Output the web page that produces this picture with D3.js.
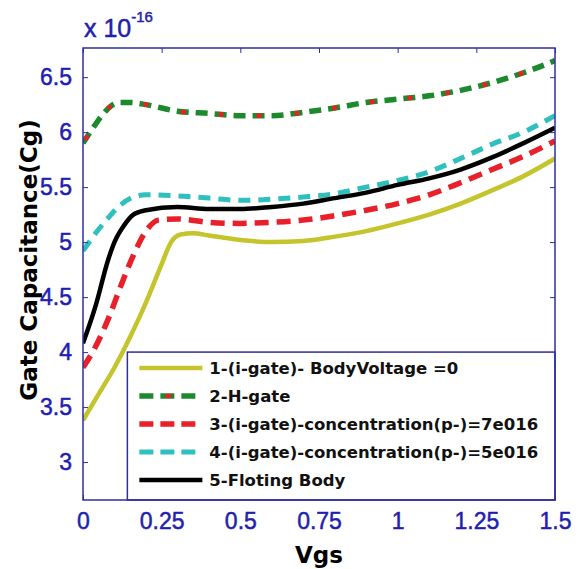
<!DOCTYPE html>
<html>
<head>
<meta charset="utf-8">
<script src="https://cdn.jsdelivr.net/npm/d3@7"></script>
<style>
	body { margin: 0; background: #fff; }
	svg { display: block; }
</style>
</head>
<body>
<div id="chart"></div>
<script>
	// values (Cg in units of 1e-16)
	var vgs1 = [0, 0.05, 0.1, 0.15, 0.2, 0.25, 0.28, 0.31, 0.35, 0.4, 0.5, 0.6, 0.7, 0.8, 0.9, 1.0, 1.1, 1.2, 1.3, 1.4, 1.5];
	var bodyVoltage = [3.38, 3.62, 3.86, 4.14, 4.45, 4.8, 5.0, 5.07, 5.08, 5.06, 5.02, 5.0, 5.01, 5.05, 5.1, 5.17, 5.25, 5.35, 5.47, 5.6, 5.76];

	var vgs2 = [0, 0.03, 0.06, 0.09, 0.12, 0.15, 0.2, 0.3, 0.4, 0.5, 0.6, 0.7, 0.8, 0.9, 1.0, 1.1, 1.2, 1.3, 1.4, 1.5];
	var hGate = [5.9, 6.03, 6.15, 6.24, 6.27, 6.27, 6.25, 6.19, 6.17, 6.15, 6.15, 6.18, 6.22, 6.27, 6.3, 6.33, 6.38, 6.45, 6.54, 6.65];

	var vgs3 = [0, 0.04, 0.08, 0.12, 0.16, 0.2, 0.24, 0.3, 0.4, 0.5, 0.6, 0.7, 0.8, 0.9, 1.0, 1.1, 1.2, 1.3, 1.4, 1.5];
	var conc7e16 = [3.86, 4.05, 4.3, 4.6, 4.88, 5.1, 5.2, 5.21, 5.18, 5.17, 5.18, 5.2, 5.24, 5.29, 5.35, 5.43, 5.54, 5.66, 5.78, 5.92];

	var vgs4 = [0, 0.04, 0.08, 0.12, 0.16, 0.2, 0.3, 0.4, 0.5, 0.6, 0.7, 0.8, 0.9, 1.0, 1.1, 1.2, 1.3, 1.4, 1.5];
	var conc5e16 = [4.92, 5.08, 5.22, 5.34, 5.41, 5.43, 5.42, 5.4, 5.38, 5.39, 5.41, 5.44, 5.5, 5.56, 5.64, 5.76, 5.89, 6.0, 6.15];

	var vgs5 = [0, 0.04, 0.08, 0.1, 0.13, 0.16, 0.2, 0.3, 0.4, 0.5, 0.6, 0.7, 0.8, 0.9, 1.0, 1.1, 1.2, 1.3, 1.4, 1.5];
	var floatingBody = [4.08, 4.42, 4.84, 5.0, 5.15, 5.25, 5.29, 5.32, 5.3, 5.3, 5.32, 5.35, 5.4, 5.45, 5.52, 5.58, 5.66, 5.77, 5.9, 6.04];

	var xTicks = [0, 0.25, 0.5, 0.75, 1, 1.25, 1.5];
	var yTicks = [3, 3.5, 4, 4.5, 5, 5.5, 6, 6.5];
	var legendLabels = [
		'1-(i-gate)- BodyVoltage =0',
		'2-H-gate',
		'3-(i-gate)-concentration(p-)=7e016',
		'4-(i-gate)-concentration(p-)=5e016',
		'5-Floting Body'
	];

	var W = 583, H = 569
	var margin = { left: 83, top: 48, right: 28, bottom: 69 }
	var width = W - margin.left - margin.right,
		height = H - margin.top - margin.bottom
	var blue = '#1f1fb0', frame = '#2e2ea0'
	var tickFont = 'Liberation Sans, Arial, sans-serif'

	var svg = d3.select('#chart').append('svg')
		.attr('width', W)
		.attr('height', H)
	var g = svg.append('g')
		.attr('transform', 'translate(' + [margin.left, margin.top] + ')')

	var x = d3.scaleLinear().domain([0, 1.5]).range([0, width])
	var y = d3.scaleLinear().domain([2.655, 6.765]).range([height, 0])

	svg.append('defs').append('clipPath').attr('id', 'clip')
		.append('rect').attr('width', width).attr('height', height)

	var series = [
		{ xs: vgs1, ys: bodyVoltage, color: '#c4c42c', width: 4.5, dash: null },
		{ xs: vgs2, ys: hGate, color: '#1c8a2c', width: 5.5, dash: '12,7', overlay: '#e62222' },
		{ xs: vgs3, ys: conc7e16, color: '#e8202a', width: 5.5, dash: '14,8' },
		{ xs: vgs4, ys: conc5e16, color: '#2fbfbf', width: 5, dash: '12,8' },
		{ xs: vgs5, ys: floatingBody, color: '#000', width: 4.5, dash: null }
	]

	var line = d3.line()
		.x(d => x(d[0]))
		.y(d => y(d[1]))
		.curve(d3.curveMonotoneX)

	var plot = g.append('g').attr('clip-path', 'url(#clip)')
	series.forEach(s => {
		var pts = s.xs.map((v, i) => [v, s.ys[i]])
		plot.append('path')
			.attr('d', line(pts))
			.attr('fill', 'none')
			.attr('stroke', s.color)
			.attr('stroke-width', s.width)
			.attr('stroke-dasharray', s.dash)
		if (s.overlay) {
			plot.append('path')
				.attr('d', line(pts))
				.attr('fill', 'none')
				.attr('stroke', s.overlay)
				.attr('stroke-width', s.width - 1)
				.attr('stroke-dasharray', '5,33')
				.attr('stroke-dashoffset', -4)
		}
	})

	// axes: ticks inside, mirrored on top / right
	g.append('g')
		.attr('transform', 'translate(0,' + height + ')')
		.call(d3.axisBottom(x).tickValues(xTicks).tickSize(-5).tickPadding(13).tickFormat(d3.format('')))
		.call(a => {
			a.select('.domain').remove()
			a.selectAll('line').attr('stroke', frame)
			a.selectAll('text').attr('fill', blue)
				.attr('stroke', blue).attr('stroke-width', 0.5)
				.attr('font-family', tickFont)
				.attr('font-size', 23)
		})
	g.append('g')
		.call(d3.axisTop(x).tickValues(xTicks).tickSize(-5).tickFormat(''))
		.call(a => { a.select('.domain').remove(); a.selectAll('line').attr('stroke', frame) })
	g.append('g')
		.call(d3.axisLeft(y).tickValues(yTicks).tickSize(-5).tickPadding(11).tickFormat(d3.format('')))
		.call(a => {
			a.select('.domain').remove()
			a.selectAll('line').attr('stroke', frame)
			a.selectAll('text').attr('fill', blue)
				.attr('stroke', blue).attr('stroke-width', 0.5)
				.attr('font-family', tickFont)
				.attr('font-size', 23)
		})
	g.append('g')
		.attr('transform', 'translate(' + width + ',0)')
		.call(d3.axisRight(y).tickValues(yTicks).tickSize(-5).tickFormat(''))
		.call(a => { a.select('.domain').remove(); a.selectAll('line').attr('stroke', frame) })

	// legend
	var lg = g.append('g').attr('transform', 'translate(' + (x(0.141)) + ',' + (y(4.0) + 0) + ')')
	var lgW = width - x(0.141), lgH = height - y(4.0)
	lg.append('rect')
		.attr('width', lgW).attr('height', lgH)
		.attr('fill', '#fff')
		.attr('stroke', frame)
		.attr('stroke-width', 1.5)
	var rows = lg.selectAll('g.row')
		.data(series)
		.enter().append('g')
		.attr('class', 'row')
		.attr('transform', (d, i) => 'translate(0,' + (16 + i * 28) + ')')
	rows.append('line')
		.attr('x1', 12).attr('x2', 75)
		.attr('stroke', d => d.color)
		.attr('stroke-width', d => d.width)
		.attr('stroke-dasharray', d => d.dash ? '14,7' : null)
	rows.filter(d => d.overlay).append('line')
		.attr('x1', 38).attr('x2', 44)
		.attr('stroke', d => d.overlay)
		.attr('stroke-width', 4)
	rows.append('text')
		.attr('x', 82)
		.attr('y', 6)
		.attr('font-family', 'DejaVu Sans, Verdana, sans-serif')
		.attr('font-weight', 'bold')
		.attr('font-size', 16.5)
		.attr('fill', '#111')
		.text((d, i) => legendLabels[i])

	// frame on top
	g.append('rect')
		.attr('width', width).attr('height', height)
		.attr('fill', 'none')
		.attr('stroke', frame)
		.attr('stroke-width', 1.5)

	// exponent label
	var ex = svg.append('text')
		.attr('x', margin.left + 1)
		.attr('y', 37)
		.attr('fill', blue)
		.attr('stroke', blue).attr('stroke-width', 0.5)
		.attr('font-family', tickFont)
		.attr('font-size', 25)
	ex.append('tspan').text('x 10')
	ex.append('tspan').attr('dy', -15).attr('font-size', 15).text('-16')

	// axis titles
	svg.append('text')
		.attr('transform', 'translate(37,' + 260 + ') rotate(-90)')
		.attr('text-anchor', 'middle')
		.attr('font-family', 'DejaVu Sans, Verdana, sans-serif')
		.attr('font-weight', 'bold')
		.attr('font-size', 23)
		.attr('fill', '#000')
		.text('Gate Capacitance(Cg)')
	svg.append('text')
		.attr('x', margin.left + width / 2)
		.attr('y', 563)
		.attr('text-anchor', 'middle')
		.attr('font-family', 'DejaVu Sans, Verdana, sans-serif')
		.attr('font-weight', 'bold')
		.attr('font-size', 23)
		.attr('fill', '#000')
		.text('Vgs')
</script>
</body>
</html>
